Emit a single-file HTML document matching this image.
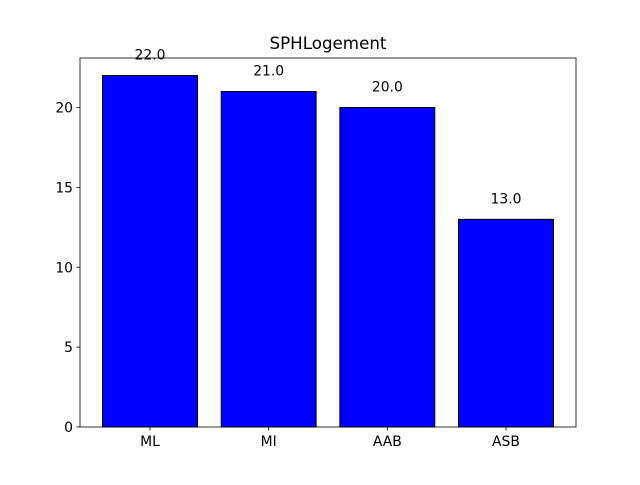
<!DOCTYPE html>
<html><head><meta charset="utf-8"><style>
html,body{margin:0;padding:0;background:#fff;}
svg text{font-family:"DejaVu Sans","Liberation Sans",sans-serif;}
</style></head><body>
<svg id="chart" width="640" height="480" viewBox="0 0 640 480" xmlns="http://www.w3.org/2000/svg">
<rect width="640" height="480" fill="#fff"/>
<text x="328" y="49" font-size="16.7" text-anchor="middle">SPHLogement</text>
<g id="plot"></g>
</svg>
<script>
const categories = ["ML", "MI", "AAB", "ASB"];
const values = [22, 21, 20, 13];
const yTicks = [0, 5, 10, 15, 20];

const L = 80, R = 576, T = 58, B = 427;
const yMax = 23.1;
const xMin = -0.59, xMax = 3.59;
const xs = v => L + (v - xMin) / (xMax - xMin) * (R - L);
const ys = v => B - v / yMax * (B - T);
const NS = "http://www.w3.org/2000/svg";
const g = document.getElementById("plot");
function mk(tag, attrs) {
  const e = document.createElementNS(NS, tag);
  for (const k in attrs) e.setAttribute(k, attrs[k]);
  g.appendChild(e);
  return e;
}
categories.forEach((c, i) => {
  const x0 = xs(i - 0.4), x1 = xs(i + 0.4);
  const bar = mk("rect", {x: x0, y: ys(values[i]), width: x1 - x0, height: B - ys(values[i]), fill: "#0000ff", stroke: "#000", "stroke-width": 1});
  
  
  const lbl = mk("text", {x: xs(i), y: ys(values[i] + 1), "font-size": 13.9, "text-anchor": "middle"});
  lbl.textContent = values[i].toFixed(1);
  
  
  const tk = mk("line", {x1: xs(i), x2: xs(i), y1: B, y2: B + 3.5, stroke: "#000", "stroke-width": 0.8});
  
  
  const tl = mk("text", {x: xs(i), y: B + 19, "font-size": 13.9, "text-anchor": "middle"});
  tl.textContent = c;
  
  
});
yTicks.forEach(v => {
  const tk = mk("line", {x1: L - 3.5, x2: L, y1: ys(v), y2: ys(v), stroke: "#000", "stroke-width": 0.8});
  
  
  const tl = mk("text", {x: L - 7, y: ys(v) + 5, "font-size": 13.9, "text-anchor": "end"});
  tl.textContent = v;
  
  
});
const frame = mk("rect", {x: L, y: T, width: R - L, height: B - T, fill: "none", stroke: "#000", "stroke-width": 0.8});


</script>
</body></html>
